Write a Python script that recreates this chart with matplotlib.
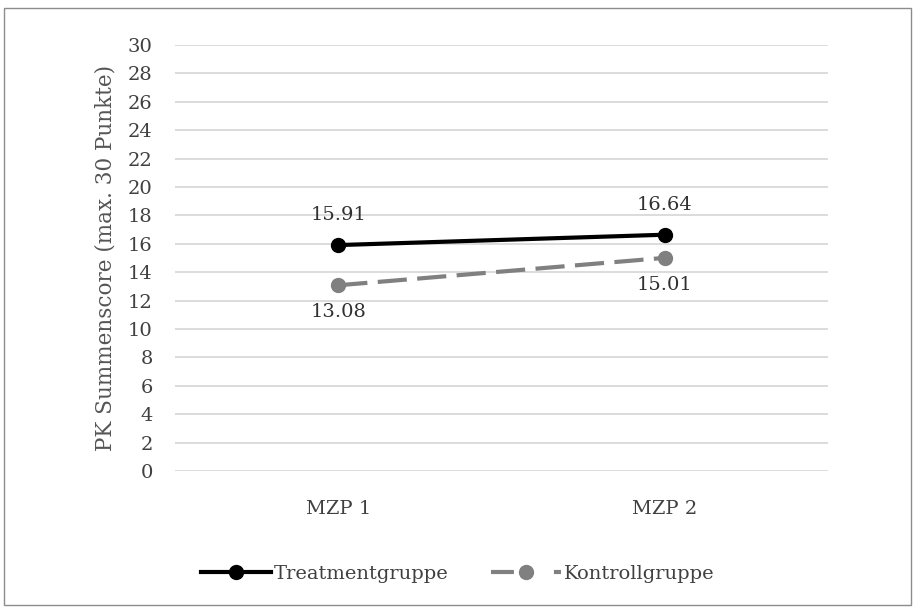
import matplotlib
matplotlib.use("Agg")
import matplotlib.pyplot as plt
from matplotlib.lines import Line2D
from matplotlib.patches import Rectangle

# measurement points and group means
categories = ["MZP 1", "MZP 2"]
treatment = [15.91, 16.64]
control = [13.08, 15.01]
y_ticks = list(range(0, 31, 2))

plt.rcParams["font.family"] = ["DejaVu Serif"]
text_color = "#404040"
grey = "#808080"

fig = plt.figure(figsize=(9.15, 6.09), dpi=100)
ax = fig.add_axes([0.1913, 0.2266, 0.7137, 0.6995])

x = list(range(len(categories)))

h_treat, = ax.plot(x, treatment, color="black", lw=3, marker="o", ms=10,
                   label="Treatmentgruppe", zorder=3)
ax.plot(x, control, color=grey, lw=3, ls=(0, (7, 2.5)), marker="o",
        ms=10, zorder=3)

for xi, v in zip(x, treatment):
    ax.annotate(f"{v:.2f}", (xi, v), xytext=(0, 15), textcoords="offset points",
                ha="center", va="bottom", fontsize=14, color="#303030")
for xi, v in zip(x, control):
    ax.annotate(f"{v:.2f}", (xi, v), xytext=(0, -13), textcoords="offset points",
                ha="center", va="top", fontsize=14, color="#303030")

ax.set_xlim(-0.5, len(categories) - 0.5)
ax.set_ylim(0, 30)
ax.set_yticks(y_ticks)
ax.set_xticks(x)
ax.set_xticklabels(categories)
ax.yaxis.grid(True, color="#d9d9d9", lw=1.3)
ax.set_axisbelow(True)
for s in ax.spines.values():
    s.set_visible(False)
ax.tick_params(axis="both", length=0, labelsize=14, colors=text_color)
ax.tick_params(axis="y", pad=16)
ax.tick_params(axis="x", pad=21)
ax.set_ylabel("PK Summenscore (max. 30 Punkte)", fontsize=15.5,
              color="#555555", labelpad=8)

# legend key for the control group: dash, dot, short dash
h_ctrl = Line2D([], [], color=grey, lw=3, ls=(0, (5.5, 9.6)), marker="o",
                ms=10, label="Kontrollgruppe")

fig.legend(handles=[h_treat, h_ctrl], loc="center", bbox_to_anchor=(0.5, 0.057),
           ncol=2, frameon=False, fontsize=14, handlelength=3.6,
           handletextpad=0.15, columnspacing=2.2, labelcolor=text_color)

fig.patches.append(Rectangle((0.004, 0.006), 0.992, 0.981, transform=fig.transFigure,
                             fill=False, edgecolor="#8c8c8c", lw=1))

fig.savefig("out.png", dpi=100)
